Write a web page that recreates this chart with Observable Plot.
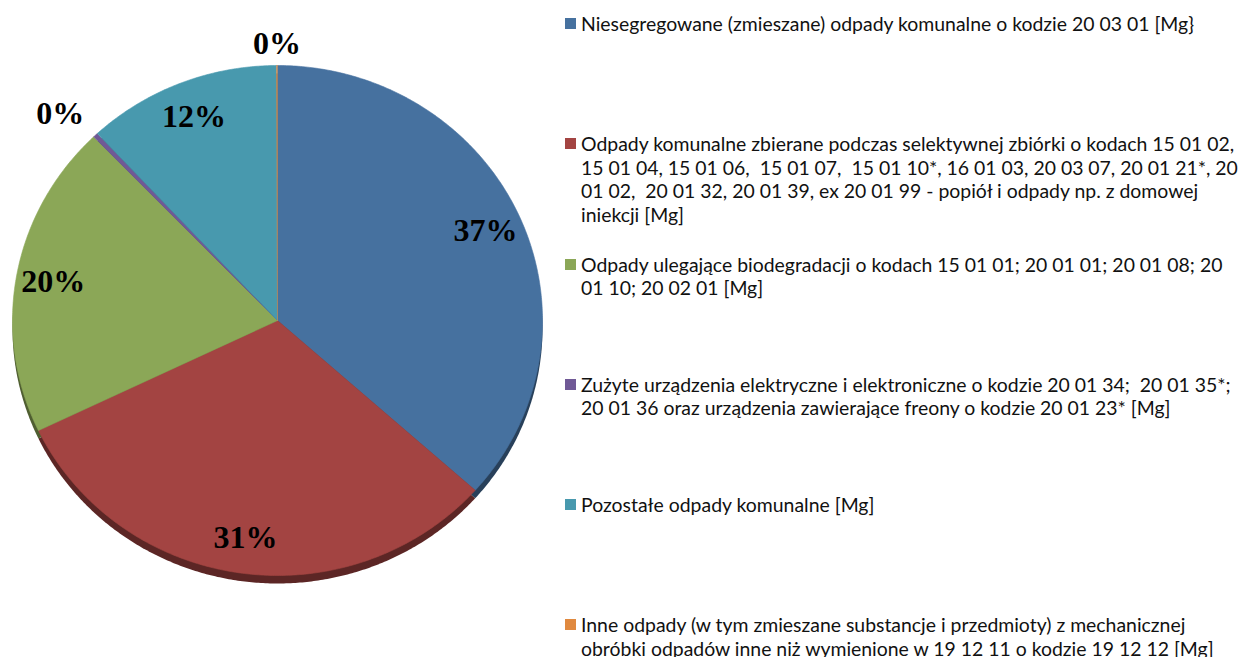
<!DOCTYPE html>
<html><head><meta charset="utf-8">
<script src="https://cdn.jsdelivr.net/npm/d3@7"></script>
<script src="https://cdn.jsdelivr.net/npm/@observablehq/plot@0.6"></script>
<style>
body{margin:0;background:#fff;}
#wrap{position:relative;width:1246px;height:657px;overflow:hidden;background:#fff;}
#chart{position:absolute;left:0;top:0;}
.item{position:absolute;left:565px;width:679px;font-family:Lato,"Open Sans",sans-serif;color:#111;line-height:23.5px;white-space:pre-wrap;}
.sw{position:absolute;left:0;top:6px;width:11px;height:11px;}
.tx{margin-left:16px;}
</style></head><body><div id="wrap"><div id="chart"></div><div id="legend"></div></div>
<script>
const categories = [
  "Niesegregowane (zmieszane) odpady komunalne o kodzie 20 03 01 [Mg}",
  "Odpady komunalne zbierane podczas selektywnej zbiórki o kodach 15 01 02, 15 01 04, 15 01 06,  15 01 07,  15 01 10*, 16 01 03, 20 03 07, 20 01 21*, 20 01 02,  20 01 32, 20 01 39, ex 20 01 99 - popiół i odpady np. z domowej iniekcji [Mg]",
  "Odpady ulegające biodegradacji o kodach 15 01 01; 20 01 01; 20 01 08; 20 01 10; 20 02 01 [Mg]",
  "Zużyte urządzenia elektryczne i elektroniczne o kodzie 20 01 34;  20 01 35*; 20 01 36 oraz urządzenia zawierające freony o kodzie 20 01 23* [Mg]",
  "Pozostałe odpady komunalne [Mg]",
  "Inne odpady (w tym zmieszane substancje i przedmioty) z mechanicznej obróbki odpadów inne niż wymienione w 19 12 11 o kodzie 19 12 12 [Mg]"
];
const values = [36.6, 31.3, 19.9, 0.3, 11.85, 0.05];
const colors = ["#46719F", "#A34442", "#8BA757", "#705996", "#4899AE", "#E0893F"];

const total = d3.sum(values);
const arcs = d3.pie().sort(null).value(d => d.value)(categories.map((c, i) => ({category: c, value: values[i]})));

// slice outlines (unit circle, y up) derived from the pie angles
const poly = [];
for (const a of arcs) {
  const n = Math.max(2, Math.ceil((a.endAngle - a.startAngle) / (Math.PI / 360)));
  poly.push({category: a.data.category, x: 0, y: 0});
  for (let k = 0; k <= n; k++) {
    const t = a.startAngle + (a.endAngle - a.startAngle) * k / n;
    poly.push({category: a.data.category, x: Math.sin(t), y: Math.cos(t)});
  }
}

const labels = arcs.map(a => {
  const mid = (a.startAngle + a.endAngle) / 2;
  const pct = a.data.value / total * 100;
  const outside = pct < 1;
  const s = Math.sin(mid);
  const f = outside ? 1.045 + 0.025 * Math.abs(s) : 0.86;
  return {
    text: Math.round(pct) + "%",
    x: Math.sin(mid) * f, y: Math.cos(mid) * f, outside,
    anchor: outside ? (Math.abs(s) < 0.2 ? "middle" : (s < 0 ? "end" : "start")) : "middle"
  };
});

const textStyle = {fontFamily: "Liberation Serif", fontWeight: "bold", fontSize: 32, fill: "black"};

const sideMarks = categories.map((c, i) =>
  Plot.line(poly.filter(d => d.category === c), {x: "x", y: "y", fill: d3.color(colors[i]).darker(1.6).formatHex(), stroke: "none", dy: 8})
);

const plot = Plot.plot({
  width: 555, height: 657, margin: 0,
  style: {background: "white"},
  x: {domain: [-1, 1], range: [12, 542], axis: null},
  y: {domain: [-1, 1], range: [575, 65], axis: null},
  color: {domain: categories, range: colors},
  marks: [
    ...sideMarks,
    Plot.line(poly, {x: "x", y: "y", z: "category", fill: "category", stroke: "category", strokeWidth: 0.6}),
    Plot.text(labels.filter(d => !d.outside), {x: "x", y: "y", text: "text", ...textStyle}),
    Plot.text(labels.filter(d => d.outside && d.anchor === "middle"), {x: "x", y: "y", text: "text", textAnchor: "middle", lineAnchor: "bottom", ...textStyle}),
    Plot.text(labels.filter(d => d.outside && d.anchor === "end"), {x: "x", y: "y", text: "text", textAnchor: "end", lineAnchor: "bottom", ...textStyle}),
    Plot.text(labels.filter(d => d.outside && d.anchor === "start"), {x: "x", y: "y", text: "text", textAnchor: "start", lineAnchor: "bottom", ...textStyle})
  ]
});
document.getElementById("chart").appendChild(plot);

// legend
const ctx = document.createElement("canvas").getContext("2d");
ctx.font = '100px Lato, "Open Sans", sans-serif';
const fs = 614 / ctx.measureText(categories[0]).width * 100;
const legend = d3.select("#legend");
categories.forEach((c, i) => {
  const it = legend.append("div").attr("class", "item").style("top", (12.25 + i * 120.2) + "px").style("font-size", fs + "px");
  it.append("div").attr("class", "sw").style("background", colors[i]);
  it.append("div").attr("class", "tx").text(c);
});
</script>
</body></html>
